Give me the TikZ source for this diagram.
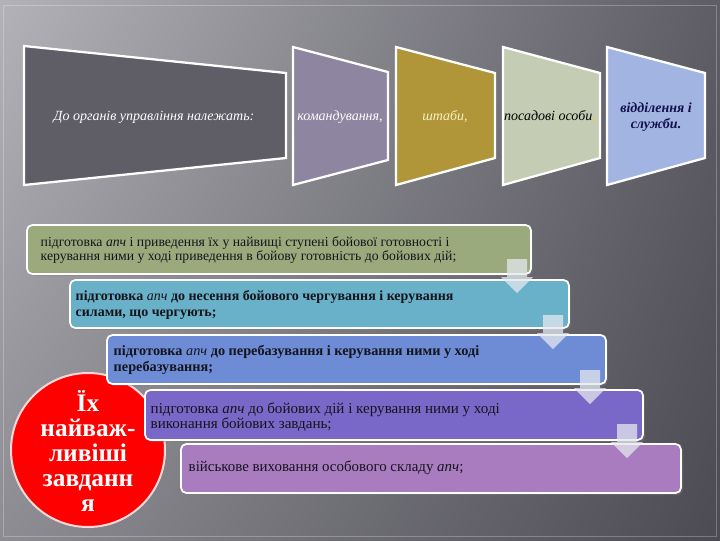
\documentclass[tikz,border=0pt]{standalone}
\usepackage{fontspec}
\setmainfont{Liberation Serif}
\usetikzlibrary{shadows,shadings}
\definecolor{bgUL}{HTML}{B2B2B8}
\definecolor{bgUR}{HTML}{5E5D65}
\definecolor{bgLL}{HTML}{8C8C92}
\definecolor{bgLR}{HTML}{4C4B53}
\definecolor{trA}{HTML}{5F5D66}
\definecolor{trB}{HTML}{8E86A1}
\definecolor{trC}{HTML}{B09638}
\definecolor{trD}{HTML}{C4CCB4}
\definecolor{trE}{HTML}{A2B4E2}
\definecolor{bxA}{HTML}{9AAA7C}
\definecolor{bxB}{HTML}{69B1C8}
\definecolor{bxC}{HTML}{6E8CD6}
\definecolor{bxD}{HTML}{7A68C9}
\definecolor{bxE}{HTML}{A97CC0}
\definecolor{navy}{HTML}{10104A}
\definecolor{cream}{HTML}{F8F2C0}
\definecolor{ylw}{HTML}{F0D020}
\definecolor{txt}{HTML}{14141C}
\definecolor{arrc}{HTML}{E4E8EE}
\newcommand\downarr[2]{\fill[arr] (#1-10,#2) -- (#1+10,#2) -- (#1+10,#2+18) -- (#1+16,#2+18) -- (#1,#2+34) -- (#1-16,#2+18) -- (#1-10,#2+18) -- cycle;}
\begin{document}
\begin{tikzpicture}[x=0.75pt,y=-0.75pt,
  trap/.style={draw=white, line width=1.7pt, line join=miter},
  ttxt/.style={font=\fontsize{10.5}{13}\selectfont\itshape, align=center},
  bx/.style={draw=white, line width=1.3pt, rounded corners=4pt, drop shadow={opacity=0.35, shadow xshift=1.5pt, shadow yshift=-1.5pt}},
  btxt/.style={anchor=west, align=left, text=txt},
  arr/.style={fill=arrc, fill opacity=0.75, draw=none}]
\useasboundingbox (0,0) rectangle (720,540);
% background
\shade[upper left=bgUL, upper right=bgUR, lower left=bgLL, lower right=bgLR]
  (0,0) rectangle (720,540);
\draw[white, opacity=0.25, line width=0.6pt] (3,5) rectangle (716,536);
% top trapezoids
\draw[trap, fill=trA] (24,46) -- (286,73) -- (286,158) -- (24,185) -- cycle;
\draw[trap, fill=trB] (293,47) -- (388,72) -- (388,160) -- (293,185) -- cycle;
\draw[trap, fill=trC] (396,47) -- (495,73) -- (495,158) -- (396,185) -- cycle;
\draw[trap, fill=trD] (503,47) -- (600,73) -- (600,158) -- (503,185) -- cycle;
\draw[trap, fill=trE] (607,47) -- (705,73) -- (705,158) -- (607,185) -- cycle;
\node[ttxt, text=white] (t1) at (154,117) {До органів управління належать:};
\node[ttxt, text=white] (t2) at (340,117) {командування,};
\node[ttxt, text=cream] (t3) at (445,117) {штаби,};
\node[ttxt, text=black] (t4) at (550,117) {посадові особи\textcolor{ylw}{,}};
\node[ttxt, text=navy, font=\fontsize{10.5}{12.5}\selectfont\itshape\bfseries] (t5) at (656,117) {відділення і\\служби.};
% red circle
\draw[fill=red, draw=white!85!red, line width=1.5pt] (88,450) circle [radius=77];
\node[text=white, align=center, font=\fontsize{19}{18.8}\selectfont\bfseries] (c) at (88,451) {Їх\\найваж-\\ливіші\\завданн\\я};
% task boxes
\draw[bx, fill=bxA] (27,225) rectangle (531,274);
\node[btxt, font=\fontsize{10.3}{10.6}\selectfont] (b1) at (36,250) {підготовка \textit{апч} і приведення їх у найвищі ступені бойової готовності і\\керування ними у ході приведення в бойову готовність до бойових дій;};
\draw[bx, fill=bxB] (70,280) rectangle (569,328);
\node[btxt, font=\fontsize{10.5}{12.2}\selectfont\bfseries] (b2) at (71,305) {підготовка \textit{\mdseries апч} до несення бойового чергування і керування\\силами, що чергують;};
\draw[bx, fill=bxC] (107,335) rectangle (606,384);
\node[btxt, font=\fontsize{10.7}{11.5}\selectfont\bfseries] (b3) at (109,360) {підготовка \textit{\mdseries апч} до перебазування і керування ними у ході\\перебазування;};
\draw[bx, fill=bxD] (145,390) rectangle (643,440);
\node[btxt, font=\fontsize{11.3}{11.5}\selectfont] (b4) at (146,417) {підготовка \textit{апч} до бойових дій і керування ними у ході\\виконання бойових завдань;};
\draw[bx, fill=bxE] (181,444) rectangle (681,493);
\node[btxt, font=\fontsize{11.2}{12}\selectfont] (b5) at (184,468) {військове виховання особового складу \textit{апч};};
% arrows
\downarr{517}{259}
\downarr{553}{315}
\downarr{590}{370}
\downarr{627}{424}
\end{tikzpicture}
\end{document}
